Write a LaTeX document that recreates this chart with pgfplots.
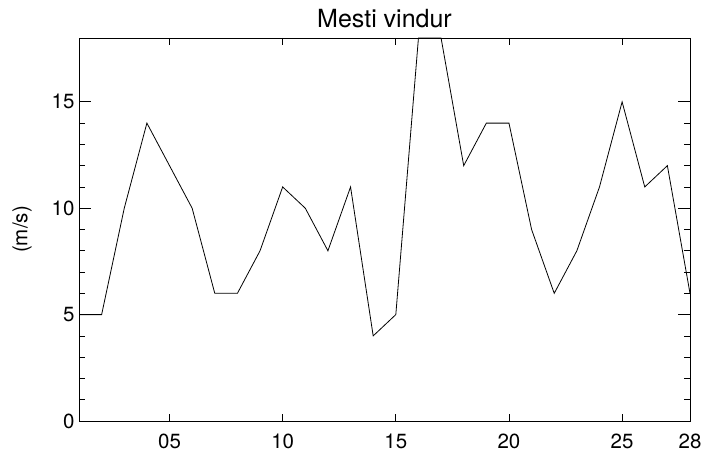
\documentclass[border=0pt]{standalone}
\usepackage{fontspec}
\setmainfont{TeX Gyre Heros}
\usepackage{pgfplots}
\pgfplotsset{compat=1.18}

\begin{document}
\begin{tikzpicture}[x=1pt,y=1pt]
\useasboundingbox (0,0) rectangle (717,455);
\begin{axis}[
    at={(79pt,34pt)}, anchor=south west,
    scale only axis,
    width=611pt, height=383pt,
    xmin=1, xmax=28, ymin=0, ymax=18,
    xtick={5,10,15,20,25,28},
    xticklabels={05,10,15,20,25,28},
    ytick={0,5,10,15},
    minor y tick num=4,
    tick align=inside,
    major tick length=12pt,
    minor tick length=6pt,
    xtick style={/pgfplots/major tick length=7pt},
    tick style={black, line width=0.7pt},
    axis line style={line width=0.8pt},
    /pgf/number format/assume math mode=true,
    tick label style={font=\fontsize{20.5}{24}\selectfont},
    xticklabel style={yshift=-9pt},
    yticklabel style={xshift=-1pt},
    title={Mesti vindur},
    title style={font=\fontsize{25}{30}\selectfont, yshift=1pt},
    ylabel={(m/s)},
    ylabel style={font=\fontsize{20.5}{24}\selectfont,
        at={(axis description cs:-0.0933,0.5)}, anchor=center},
    clip=true,
]
\addplot[black, line width=0.8pt] coordinates {
(1,5) (2,5) (3,10) (4,14) (5,12) (6,10) (7,6) (8,6) (9,8) (10,11)
(11,10) (12,8) (13,11) (14,4) (15,5) (16,18) (17,18) (18,12) (19,14) (20,14)
(21,9) (22,6) (23,8) (24,11) (25,15) (26,11) (27,12) (28,6)
};
\end{axis}
\end{tikzpicture}
\end{document}
